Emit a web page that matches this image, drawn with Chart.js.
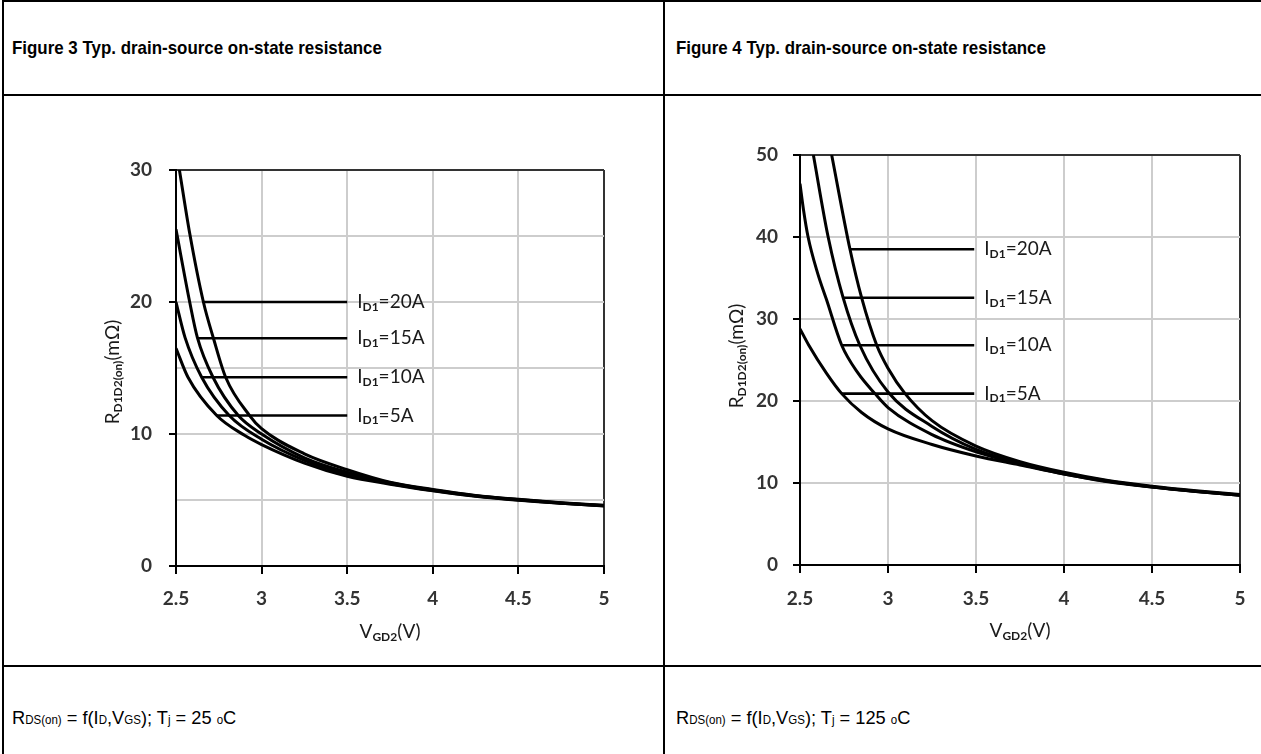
<!DOCTYPE html>
<html><head><meta charset="utf-8">
<script src="https://cdn.jsdelivr.net/npm/chart.js@4.4.1/dist/chart.umd.min.js"></script>
<style>
html,body{margin:0;padding:0;background:#fff;width:1261px;height:754px;overflow:hidden;font-family:"Liberation Sans",Arial,sans-serif;}
.ln{position:absolute;background:#000;}
.title{position:absolute;font-weight:bold;font-size:19px;line-height:24px;color:#000;white-space:nowrap;transform:scaleX(0.89);transform-origin:0 50%;}
.cap{position:absolute;font-size:19px;line-height:24px;color:#000;white-space:nowrap;transform:scaleX(0.96);transform-origin:0 50%;}
.cap span{font-size:12px;}
canvas{position:absolute;}
</style></head><body>
<div class="ln" style="left:2px;top:0;width:1259px;height:2px"></div>
<div class="ln" style="left:2px;top:0;width:2px;height:754px"></div>
<div class="ln" style="left:2px;top:94px;width:1259px;height:2px"></div>
<div class="ln" style="left:2px;top:665px;width:1259px;height:2px"></div>
<div class="ln" style="left:663px;top:0;width:2px;height:754px"></div>
<div class="title" style="left:12px;top:36px">Figure 3 Typ. drain-source on-state resistance</div>
<div class="title" style="left:676px;top:36px">Figure 4 Typ. drain-source on-state resistance</div>
<div class="cap" style="left:12px;top:706px">R<span>DS(on)</span> = f(I<span>D</span>,V<span>GS</span>); T<span>j</span> = 25 <span>o</span>C</div>
<div class="cap" style="left:676px;top:706px">R<span>DS(on)</span> = f(I<span>D</span>,V<span>GS</span>); T<span>j</span> = 125 <span>o</span>C</div>
<canvas id="c1" width="659" height="567" style="left:4px;top:97px"></canvas>
<canvas id="c2" width="596" height="567" style="left:665px;top:97px"></canvas>
<script>
// ---------- Data: Figure 3, Tj = 25 C ----------
const vgd25_20A = [2.52, 2.58, 2.66, 2.72, 2.79, 2.93, 3.0, 3.25, 3.5, 3.75, 4.0, 4.25, 4.5, 4.75, 5.0];
const r25_20A   = [30, 25.2, 20, 17.2, 14.3, 11.4, 10.4, 8.5, 7.3, 6.35, 5.8, 5.35, 5.05, 4.8, 4.6];
const vgd25_15A = [2.5, 2.58, 2.625, 2.716, 2.864, 3.0, 3.25, 3.5, 3.75, 4.0, 4.25, 4.5, 4.75, 5.0];
const r25_15A   = [25.5, 20, 17.3, 14.3, 11.4, 10.0, 8.2, 7.1, 6.3, 5.75, 5.33, 5.03, 4.78, 4.58];
const vgd25_10A = [2.5, 2.553, 2.65, 2.811, 3.0, 3.25, 3.5, 3.75, 4.0, 4.25, 4.5, 4.75, 5.0];
const r25_10A   = [20, 17.3, 14.3, 11.4, 9.6, 8.0, 6.95, 6.25, 5.72, 5.3, 5.0, 4.76, 4.56];
const vgd25_5A  = [2.5, 2.57, 2.738, 2.9, 3.0, 3.25, 3.5, 3.75, 4.0, 4.25, 4.5, 4.75, 5.0];
const r25_5A    = [16.5, 14.3, 11.4, 9.9, 9.2, 7.8, 6.8, 6.2, 5.7, 5.28, 4.98, 4.75, 4.55];
const lead25_r     = [20, 17.25, 14.3, 11.4];
const lead25_start = [2.66, 2.625, 2.65, 2.738];
const lead25_end   = [3.5, 3.5, 3.5, 3.5];

// ---------- Data: Figure 4, Tj = 125 C ----------
const vgd125_20A = [2.68, 2.784, 2.85, 2.936, 3.0, 3.097, 3.25, 3.5, 3.75, 4.0, 4.25, 4.5, 4.75, 5.0];
const r125_20A   = [50, 38.5, 32.6, 26.8, 24.0, 20.9, 17.6, 14.5, 12.6, 11.3, 10.3, 9.6, 9.05, 8.6];
const vgd125_15A = [2.576, 2.66, 2.745, 2.84, 3.0, 3.25, 3.5, 3.75, 4.0, 4.25, 4.5, 4.75, 5.0];
const r125_15A   = [50, 40, 32.6, 26.8, 21.1, 16.9, 14.1, 12.4, 11.2, 10.25, 9.55, 9.0, 8.55];
const vgd125_10A = [2.5, 2.52, 2.546, 2.6, 2.65, 2.737, 2.83, 2.926, 3.0, 3.25, 3.5, 3.75, 4.0, 4.25, 4.5, 4.75, 5.0];
const r125_10A   = [46.5, 43.3, 40, 35.6, 32.4, 26.8, 23.4, 20.9, 19.2, 15.9, 13.8, 12.3, 11.1, 10.2, 9.5, 8.95, 8.5];
const vgd125_5A  = [2.5, 2.55, 2.65, 2.737, 2.85, 3.0, 3.25, 3.5, 3.75, 4.0, 4.25, 4.5, 4.75, 5.0];
const r125_5A    = [28.8, 26.8, 23.4, 20.9, 18.6, 16.6, 14.7, 13.3, 12.2, 11.1, 10.15, 9.5, 8.95, 8.5];
const lead125_r     = [38.5, 32.6, 26.8, 20.9];
const lead125_start = [2.784, 2.745, 2.737, 2.737];
const lead125_end   = [3.49, 3.49, 3.49, 3.49];

const currentLabels = ['20A', '15A', '10A', '5A'];
const xTicks = [2.5, 3, 3.5, 4, 4.5, 5];

// ---------- helpers ----------
const zip = (xs, ys) => xs.map((x, i) => ({x: x, y: ys[i]}));
const FONT = 'Lato, "Open Sans", sans-serif';

function drawRich(ctx, parts, x, y, align) {
  let w = 0;
  parts.forEach(p => { ctx.font = (p.w || 'normal') + ' ' + p.s + 'px ' + FONT; w += ctx.measureText(p.t).width; });
  let cx = align === 'center' ? x - w / 2 : x;
  parts.forEach(p => {
    ctx.font = (p.w || 'normal') + ' ' + p.s + 'px ' + FONT;
    ctx.fillText(p.t, cx, y + (p.dy || 0));
    cx += ctx.measureText(p.t).width;
  });
}

const textPlugin = {
  id: 'richText',
  afterDraw(chart, args, opts) {
    const ctx = chart.ctx, ca = chart.chartArea;
    const xs = chart.scales.x, ys = chart.scales.y;
    ctx.save();
    ctx.fillStyle = '#1a1a1a';
    ctx.textBaseline = 'middle';
    ctx.textAlign = 'left';
    opts.leadR.forEach((r, i) => {
      const px = xs.getPixelForValue(opts.leadEnd[i]) + 10;
      const py = ys.getPixelForValue(r);
      drawRich(ctx, [{t: 'I', s: 19}, {t: 'D1', s: 12, dy: 5, w: 'bold'}, {t: '=' + currentLabels[i], s: 19}], px, py, 'left');
    });
    drawRich(ctx, [{t: 'V', s: 19}, {t: 'GD2', s: 12, dy: 5, w: 'bold'}, {t: '(V)', s: 19}],
      (ca.left + ca.right) / 2, ca.bottom + 66, 'center');
    ctx.translate(ca.left - 63, (ca.top + ca.bottom) / 2 + opts.yTitleShift);
    ctx.rotate(-Math.PI / 2);
    drawRich(ctx, [{t: 'R', s: 19}, {t: 'D1D2(on)', s: 12, dy: 5, w: 'bold'}, {t: '(mΩ)', s: 19}], 0, 0, 'center');
    ctx.restore();
  }
};

function makeChart(id, series, leadR, leadStart, leadEnd, yMax, yStep, yLabelStep, pad, yTickPad, xTickPad, yTitleShift) {
  const datasets = series.map(s => ({
    data: s, borderColor: '#000', borderWidth: 3, pointRadius: 0,
    cubicInterpolationMode: 'monotone', fill: false
  }));
  leadR.forEach((r, i) => datasets.push({
    data: [{x: leadStart[i], y: r}, {x: leadEnd[i], y: r}],
    borderColor: '#000', borderWidth: 2.6, pointRadius: 0, tension: 0, fill: false
  }));
  return new Chart(document.getElementById(id), {
    type: 'line',
    data: {datasets: datasets},
    plugins: [textPlugin],
    options: {
      responsive: false, animation: false, devicePixelRatio: 1,
      layout: {padding: pad},
      plugins: {legend: {display: false}, tooltip: {enabled: false},
        richText: {leadR: leadR, leadEnd: leadEnd, yTitleShift: yTitleShift}},
      scales: {
        x: {
          type: 'linear', min: 2.5, max: 5,
          afterBuildTicks: sc => { sc.ticks = xTicks.map(v => ({value: v})); },
          afterFit: sc => { sc.height = 40; },
          ticks: {color: '#333', font: {family: FONT, size: 19, weight: 'bold'}, padding: xTickPad,
            callback: v => String(v), maxRotation: 0},
          grid: {color: c => (c.tick && c.tick.value === 5) ? '#333' : '#cdcdcd', lineWidth: 2,
            tickLength: 8, tickColor: '#000', tickWidth: 2},
          border: {color: '#000', width: 2}
        },
        y: {
          min: 0, max: yMax,
          afterFit: sc => { sc.width = 50; },
          ticks: {stepSize: yStep, color: '#333', font: {family: FONT, size: 19, weight: 'bold'}, padding: yTickPad,
            callback: v => (v % yLabelStep === 0 ? String(v) : '')},
          grid: {color: c => (c.tick && c.tick.value === yMax) ? '#333' : '#cdcdcd', lineWidth: 2,
            tickLength: 7, tickWidth: 2,
            tickColor: c => (c.tick && c.tick.value % yLabelStep === 0) ? '#000' : 'rgba(0,0,0,0)'},
          border: {color: '#000', width: 2}
        }
      }
    }
  });
}

makeChart('c1',
  [zip(vgd25_20A, r25_20A), zip(vgd25_15A, r25_15A), zip(vgd25_10A, r25_10A), zip(vgd25_5A, r25_5A)],
  lead25_r, lead25_start, lead25_end, 30, 5, 10,
  {left: 122, right: 59, top: 73, bottom: 58}, 17, 13, 4);

makeChart('c2',
  [zip(vgd125_20A, r125_20A), zip(vgd125_15A, r125_15A), zip(vgd125_10A, r125_10A), zip(vgd125_5A, r125_5A)],
  lead125_r, lead125_start, lead125_end, 50, 10, 10,
  {left: 85, right: 21, top: 58, bottom: 59}, 15, 14, -4);
</script>
</body></html>
